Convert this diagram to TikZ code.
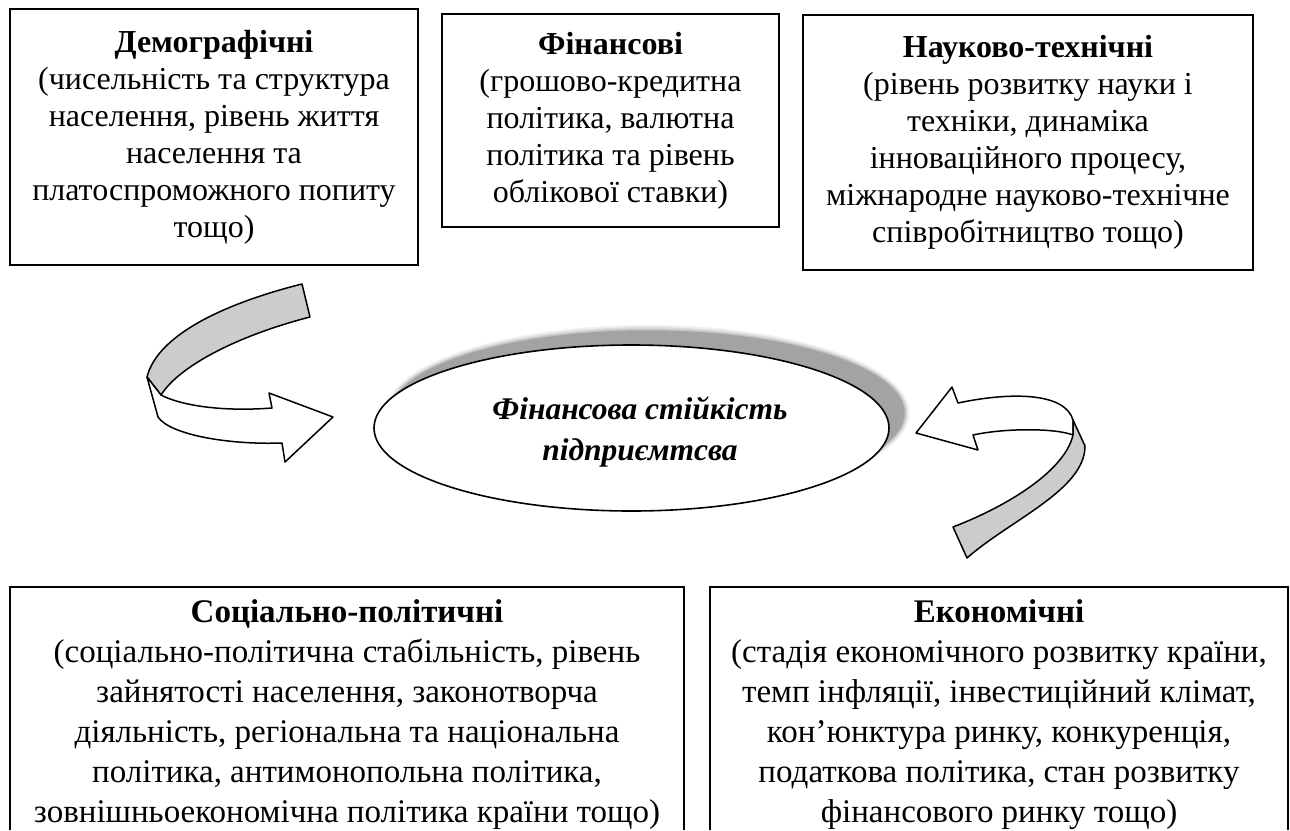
\documentclass[tikz,border=0pt]{standalone}
\usepackage{fontspec}
\setmainfont{Liberation Serif}
\usetikzlibrary{shapes.geometric}
\begin{document}
\begin{tikzpicture}[x=1pt,y=-1pt,
  boxline/.style={line width=1.8pt, black},
  factor/.style={align=center, inner sep=0pt, font=\fontsize{32}{37}\selectfont},
  framed/.style={factor, draw, line width=1.8pt},
  lowtext/.style={align=center, inner sep=0pt, font=\fontsize{33}{40}\selectfont},
  ribbonback/.style={draw=black, line width=1.5pt, fill=black!20, line join=round},
  ribbonfront/.style={draw=black, line width=1.5pt, fill=white, line join=round},
  centre/.style={ellipse, draw, line width=1.6pt, fill=white, minimum width=515pt, minimum height=166pt, inner sep=0pt}
]
\useasboundingbox (0,0) rectangle (1290,830);

% top boxes
\node[framed, minimum width=408pt, minimum height=256pt] (demo) at (214,137)
  {\textbf{Демографічні}\\(чисельність та структура\\населення, рівень життя\\населення та\\платоспроможного попиту\\тощо)};
\node[framed, minimum width=337pt, minimum height=213pt] (fin) at (610.5,120.5)
  {\textbf{Фінансові}\\(грошово-кредитна\\політика, валютна\\політика та рівень\\облікової ставки)};
\node[framed, minimum width=450pt, minimum height=255pt] (sci) at (1028,142.5)
  {\textbf{Науково-технічні}\\(рівень розвитку науки і\\техніки, динаміка\\інноваційного процесу,\\міжнародне науково-технічне\\співробітництво тощо)};

% bottom boxes (open at the bottom)
\coordinate (socsw) at (10,830);
\coordinate (socne) at (684,587);
\coordinate (socse) at (684,830);
\draw[boxline] (socsw) |- (socne) -- (socse);
\node[lowtext, anchor=north] (soc) at (347,599)
  {\textbf{Соціально-політичні}\\(соціально-політична стабільність, рівень\\зайнятості населення, законотворча\\діяльність, регіональна та національна\\політика, антимонопольна політика,\\зовнішньоекономічна політика країни тощо)};
\coordinate (ecosw) at (710,830);
\coordinate (econe) at (1288,587);
\coordinate (ecose) at (1288,830);
\draw[boxline] (ecosw) |- (econe) -- (ecose);
\node[lowtext, anchor=north] (eco) at (999,599)
  {\textbf{Економічні}\\(стадія економічного розвитку країни,\\темп інфляції, інвестиційний клімат,\\кон’юнктура ринку, конкуренція,\\податкова політика, стан розвитку\\фінансового ринку тощо)};

% soft shadow of the central ellipse
\fill[black!6]  (647.5,413) ellipse [x radius=262pt, y radius=88pt];
\fill[black!14] (647.5,413) ellipse [x radius=260pt, y radius=86pt];
\fill[black!25] (647.5,413) ellipse [x radius=258.5pt, y radius=84pt];
\fill[black!36] (647.5,413) ellipse [x radius=257pt, y radius=82.5pt];
% central ellipse
\node[centre] (core) at (631.5,428) {};
\node[align=center, inner sep=0pt, font=\fontsize{31.5}{41}\selectfont\bfseries\itshape] (coretext) at (640,432)
  {Фінансова стійкість\\підприємтсва};

% left curved arrow
\path[ribbonback] (302,284) .. controls (230,302) and (158,333) .. (147,377)
  -- (161,395) .. controls (180,365) and (240,335) .. (310,317) -- cycle;
\path[ribbonfront] (147,377) -- (158,417) .. controls (170,435) and (230,445) .. (282,443)
  -- (285,462) -- (333,417) -- (269,393) -- (272,408)
  .. controls (220,412) and (180,405) .. (161,395) -- cycle;
\coordinate (ltip) at (333,417);

% right curved arrow
\path[ribbonfront] (916,433) -- (952,387) -- (958,403)
  .. controls (1010,392) and (1065,392) .. (1073,420) -- (1073,435)
  .. controls (1055,428) and (1005,428) .. (973,435) -- (978,450) -- cycle;
\path[ribbonback] (1073,420) -- (1085,446) .. controls (1085,490) and (1010,520) .. (967,558)
  -- (953,527) .. controls (1010,505) and (1065,470) .. (1073,435) -- cycle;
\coordinate (rtip) at (916,433);
\end{tikzpicture}
\end{document}
